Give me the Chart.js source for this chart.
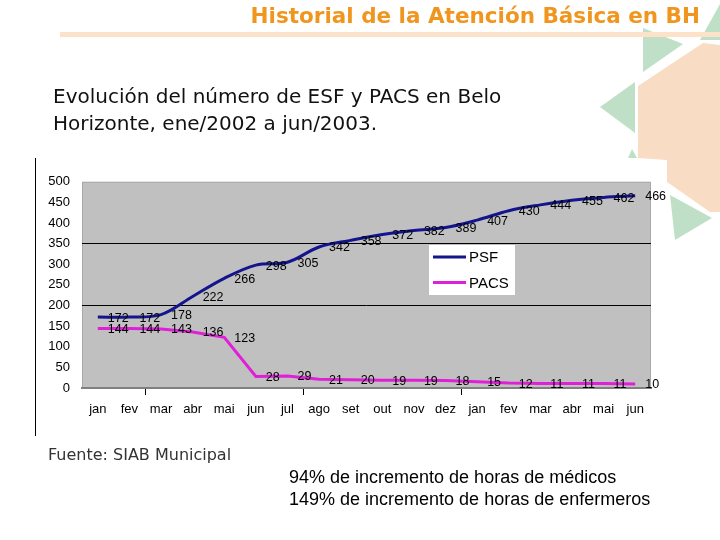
<!DOCTYPE html>
<html><head><meta charset="utf-8">
<script src="https://cdn.jsdelivr.net/npm/chart.js@4/dist/chart.umd.min.js"></script>
<style>
html,body{margin:0;padding:0;background:#fff;}
#wrap{position:relative;width:720px;height:540px;overflow:hidden;background:#fff;}
#deco{position:absolute;left:0;top:0;}
.t{position:absolute;white-space:nowrap;}
#title{left:0;width:700px;text-align:right;top:3px;font:bold 21.5px "DejaVu Sans";color:#f0961e;}
#sub{left:53px;top:83px;font:20px "DejaVu Sans";color:#111;line-height:27px;}
#src{left:48px;top:445px;font:16px "DejaVu Sans";color:#333;}
#notes{left:289px;top:466px;font:18px "Liberation Sans";color:#000;line-height:22px;}
#cv{position:absolute;left:0;top:162px;}
</style></head>
<body><div id="wrap">
<canvas id="deco" width="720" height="540"></canvas>
<div class="t" id="title">Historial de la Atención Básica en BH</div>
<div class="t" id="sub">Evolución del número de ESF y PACS en Belo<br>Horizonte, ene/2002 a jun/2003.</div>
<canvas id="cv" width="720" height="268"></canvas>
<div class="t" id="src">Fuente: SIAB Municipal</div>
<div class="t" id="notes">94% de incremento de horas de médicos<br>149% de incremento de horas de enfermeros</div>
</div>
<script>
const months = ["jan","fev","mar","abr","mai","jun","jul","ago","set","out","nov","dez","jan","fev","mar","abr","mai","jun"];
const psf  = [172,172,178,222,266,298,305,342,358,372,382,389,407,430,444,455,462,466];
const pacs = [144,144,143,136,123,28,29,21,20,19,19,18,15,12,11,11,11,10];
const seriesNames = ["PSF","PACS"];
const yTicks = [0,50,100,150,200,250,300,350,400,450,500];

// decorative background shapes
(function(){
  const c=document.getElementById('deco').getContext('2d');
  function poly(pts,col){c.beginPath();c.moveTo(pts[0][0],pts[0][1]);for(let i=1;i<pts.length;i++)c.lineTo(pts[i][0],pts[i][1]);c.closePath();c.fillStyle=col;c.fill();}
  const peach='#f9dcc4', green='#bfe0c6';
  poly([[638,86],[703,43],[720,45],[720,212],[710,212],[667,182],[667,160],[638,158]],peach);
  poly([[700,40],[720,4],[720,40]],green);
  poly([[643,28],[683,44],[643,72]],green);
  poly([[600,107],[635,82],[635,133]],green);
  poly([[628,158],[632,149],[637,158]],green);
  poly([[670,195],[712,218],[675,240]],green);
  c.fillStyle='#fbe2c8';c.fillRect(60,32,660,5);
  c.fillStyle='#000';c.fillRect(35,158,1,278);
})();

const bgPlugin={id:'bg',beforeDraw(ch){const a=ch.chartArea,c=ch.ctx;c.save();c.fillStyle='#c0c0c0';c.fillRect(a.left,a.top,a.right-a.left,a.bottom-a.top);c.strokeStyle='#a8a8a8';c.lineWidth=1;c.strokeRect(a.left+0.5,a.top+0.5,a.right-a.left-1,a.bottom-a.top-1);c.restore();}};
const labelPlugin={id:'lbl',afterDatasetsDraw(ch){const c=ch.ctx;c.save();c.font='12.5px "Liberation Sans"';c.fillStyle='#000';c.textAlign='left';c.textBaseline='middle';
  ch.data.datasets.forEach((ds,i)=>{ch.getDatasetMeta(i).data.forEach((p,j)=>{c.fillText(String(ds.data[j]),p.x+10,p.y+1);});});
  const x=429,y=245-162;
  c.fillStyle='#fff';c.fillRect(x,y,86,50);
  c.font='15px "Liberation Sans"';
  ch.data.datasets.forEach((ds,i)=>{const ly=y+12+i*25.5;c.strokeStyle=ds.borderColor;c.lineWidth=3;c.beginPath();c.moveTo(x+4,ly);c.lineTo(x+37,ly);c.stroke();c.fillStyle='#000';c.fillText(ds.label,x+40,ly+1);});
  c.restore();}};

new Chart(document.getElementById('cv'),{
  type:'line',
  data:{labels:months,datasets:[
    {label:seriesNames[0],data:psf,borderColor:'#14148e',borderWidth:3,pointRadius:0,tension:0.35,cubicInterpolationMode:'default'},
    {label:seriesNames[1],data:pacs,borderColor:'#e020d8',borderWidth:3,pointRadius:0,tension:0}
  ]},
  options:{responsive:false,animation:false,events:[],
    layout:{padding:{top:12,right:69,left:0,bottom:0}},
    plugins:{legend:{display:false},tooltip:{enabled:false}},
    scales:{
      x:{offset:true,
        grid:{offset:true,drawOnChartArea:false,tickLength:7,color:(ctx)=>([2,7,12].includes(ctx.index)?'#000':'rgba(0,0,0,0)')},
        border:{color:'#808080',width:2},
        ticks:{color:'#000',font:{family:'Liberation Sans',size:13},padding:7,autoSkip:false,maxRotation:0},
        afterFit(s){s.height=42;}},
      y:{min:0,max:500,
        afterBuildTicks(s){s.ticks=yTicks.map(v=>({value:v}));},
        grid:{drawTicks:false,color:(ctx)=>((ctx.tick&&(ctx.tick.value===200||ctx.tick.value===350))?'#000':'rgba(0,0,0,0)')},
        border:{display:false},
        ticks:{color:'#000',font:{family:'Liberation Sans',size:13},padding:12},
        afterFit(s){s.width=82;}}
    }},
  plugins:[bgPlugin,labelPlugin]
});
</script>
</body></html>
